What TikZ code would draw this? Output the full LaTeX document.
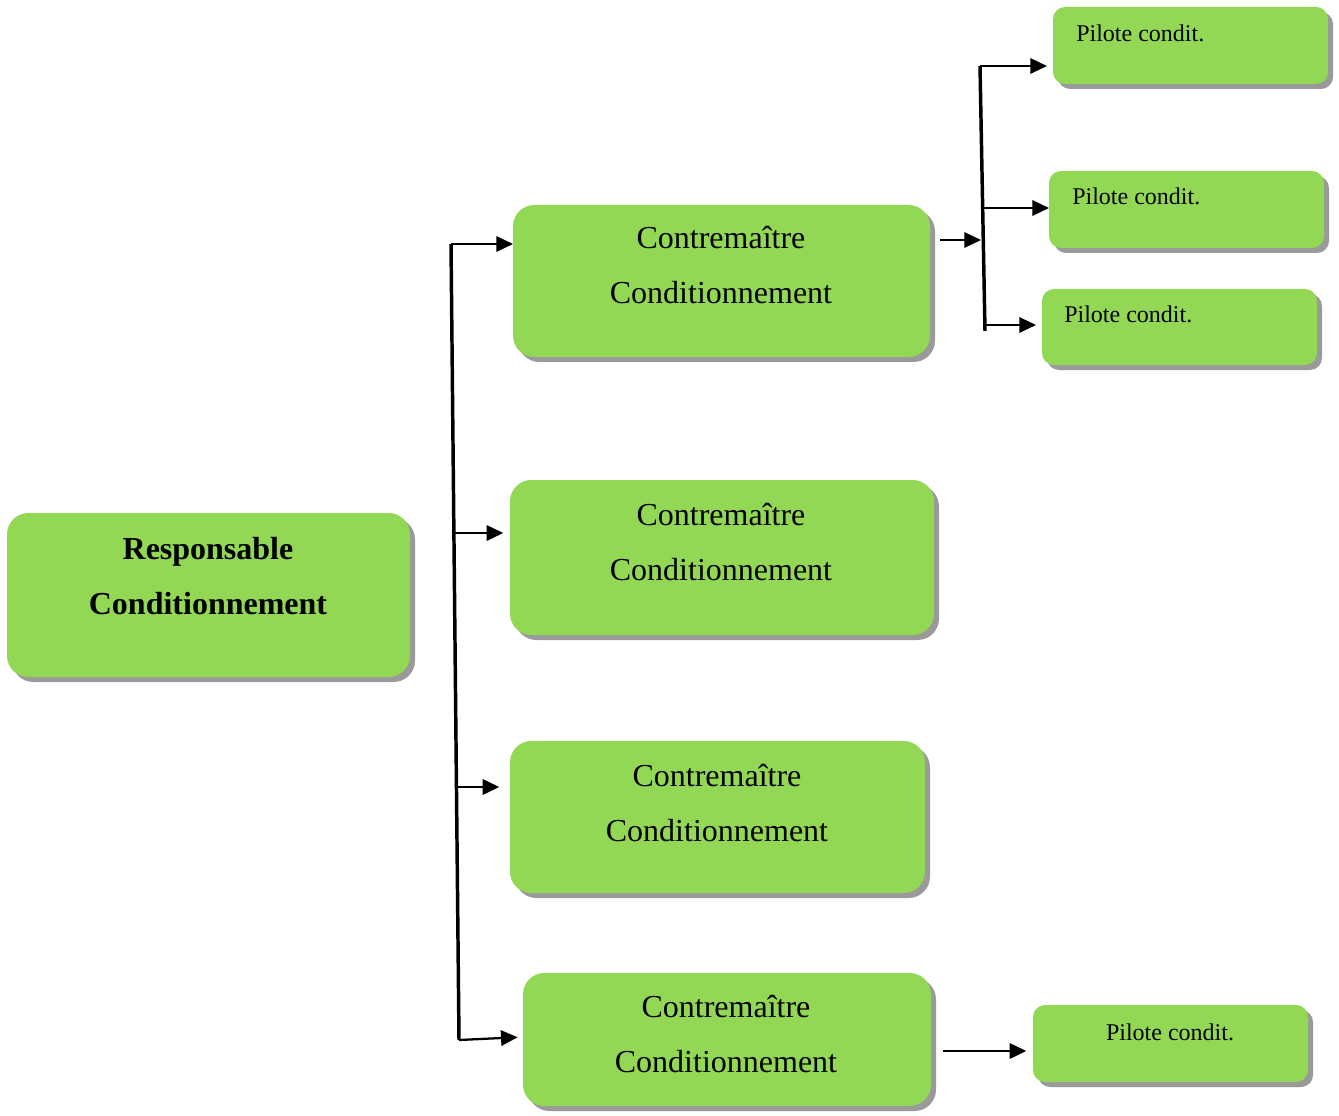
\documentclass[tikz,border=0pt]{standalone}
\usepackage{fontspec}
\setmainfont{Liberation Serif}
\usetikzlibrary{arrows.meta,shadows,fit}
\definecolor{boxgreen}{RGB}{146,216,85}
\definecolor{shgray}{RGB}{154,154,154}
\tikzset{
  box/.style={fill=boxgreen, draw=none, inner sep=0pt, outer sep=0pt, rounded corners=16pt,
    drop shadow={shadow xshift=3.75pt, shadow yshift=-3.75pt, fill=shgray, opacity=1}},
  smallbox/.style={box, rounded corners=9pt},
  bigtxt/.style={anchor=base, font=\fontsize{24}{28}\selectfont, inner sep=0pt},
  boldtxt/.style={bigtxt, font=\fontsize{24}{28}\selectfont\bfseries},
  smalltxt/.style={anchor=base west, font=\fontsize{18}{21}\selectfont, inner sep=0pt},
  bus/.style={line width=2.6pt},
  arr/.style={line width=1.7pt, -{Triangle[length=12.5pt,width=11.5pt]}}
}
\begin{document}
\begin{tikzpicture}[x=0.75pt,y=-0.75pt]
\useasboundingbox (0,0) rectangle (1339,1116);
% boxes
\node[box, fit={(7,513) (410,677)}] (r) {};
\node[box, fit={(513,205) (930,357)}] (c1) {};
\node[box, fit={(510,480) (934,635)}] (c2) {};
\node[box, fit={(510,741) (925,893)}] (c3) {};
\node[box, fit={(523,973) (931,1106)}] (c4) {};
\node[smallbox, fit={(1053,7) (1328,84)}] (p1) {};
\node[smallbox, fit={(1049,171) (1324,248)}] (p2) {};
\node[smallbox, fit={(1042,289) (1317,365)}] (p3) {};
\node[smallbox, fit={(1033,1005) (1308,1082)}] (p4) {};
% texts
\node[boldtxt] (rt1) at (208,559) {Responsable};
\node[boldtxt] (rt2) at (208,614) {Conditionnement};
\node[bigtxt] (c1t1) at (721,249) {Contremaître};
\node[bigtxt] (c1t2) at (721,304) {Conditionnement};
\node[bigtxt] (c2t1) at (721,525) {Contremaître};
\node[bigtxt] (c2t2) at (721,580) {Conditionnement};
\node[bigtxt] (c3t1) at (717,786) {Contremaître};
\node[bigtxt] (c3t2) at (717,841) {Conditionnement};
\node[bigtxt] (c4t1) at (726,1017) {Contremaître};
\node[bigtxt] (c4t2) at (726,1072) {Conditionnement};
\node[smalltxt] (p1t) at (1076,42) {Pilote condit.};
\node[smalltxt] (p2t) at (1072,205) {Pilote condit.};
\node[smalltxt] (p3t) at (1064,323) {Pilote condit.};
\node[smalltxt, anchor=base] (p4t) at (1170,1040) {Pilote condit.};
% left bus
\coordinate (b1) at (451,244);
\coordinate (b2) at (455,533);
\coordinate (b3) at (457,787);
\coordinate (b4) at (459,1040);
\draw[bus] (b1) -- (b4);
\draw[arr] (b1) -- (c1.west |- b1);
\draw[arr, shorten >=5pt] (b2) -- (c2.west |- b2);
\draw[arr, shorten >=8pt] (b3) -- (c3.west |- b3);
\draw[arr, shorten >=4pt] (b4) -- (c4.west |- 0,1037);
% right bus
\coordinate (s1) at (980,66);
\coordinate (s2) at (983,208);
\coordinate (s3) at (985,325);
\coordinate (s4) at (985,331);
\coordinate (sin) at (981,240);
\draw[bus] (s1) -- (s4);
\draw[arr, shorten <=7.5pt] (c1.east |- sin) -- (sin);
\draw[arr, shorten >=4.5pt] (s1) -- (p1.west |- s1);
\draw[arr] (s2) -- (p2.west |- s2);
\draw[arr, shorten >=4.5pt] (s3) -- (p3.west |- s3);
% bottom right
\coordinate (q4) at (985,1051);
\draw[arr, shorten <=9pt, shorten >=5pt] (c4.east |- q4) -- (p4.west |- q4);
\end{tikzpicture}
\end{document}
